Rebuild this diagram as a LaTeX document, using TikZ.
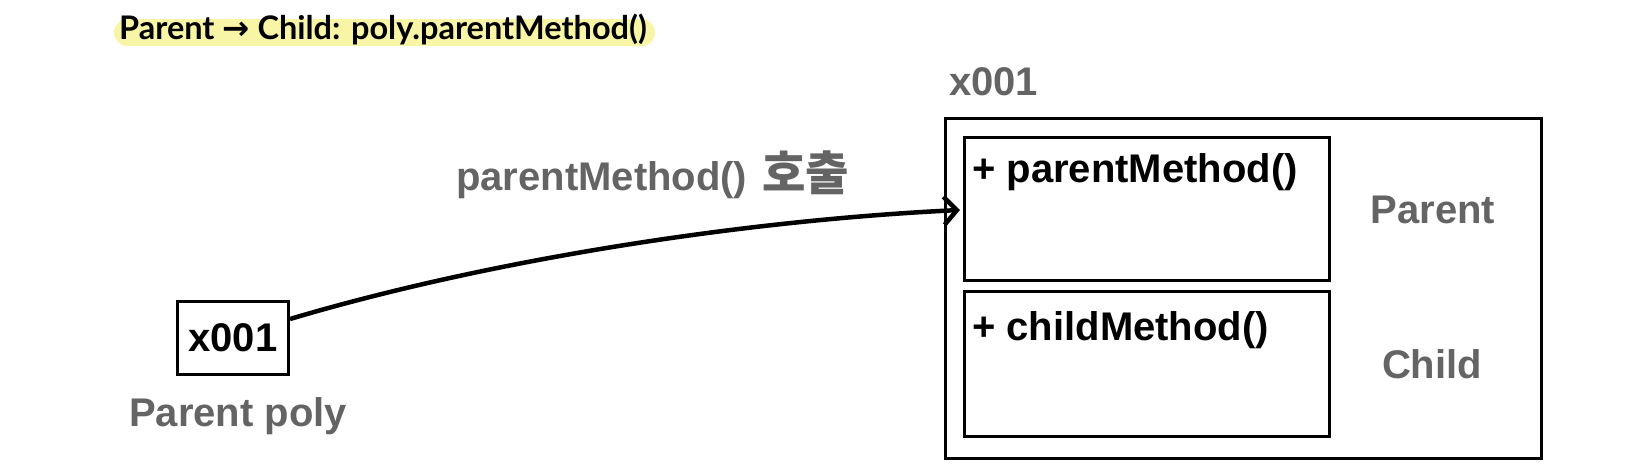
\documentclass[tikz,border=0pt]{standalone}
\usepackage{fontspec}
\setmainfont{Liberation Sans}
\newfontfamily\kofont[Scale=1.18]{Noto Sans CJK KR}
\newfontfamily\titlefont{Lato}
\newfontfamily\arrowfont{DejaVu Sans}
\usetikzlibrary{arrows.meta}
\definecolor{labelgray}{HTML}{646464}
\definecolor{marker}{HTML}{F8F5A6}
\begin{document}
\begin{tikzpicture}[x=1pt,y=-1pt,
  box/.style={draw=black, line width=3pt, inner sep=0pt, anchor=north west},
  big/.style={font=\fontsize{40}{43}\selectfont\bfseries},
  graytext/.style={big, text=labelgray, inner sep=0pt},
  blacktext/.style={big, text=black, inner sep=0pt},
  callarrow/.style={line width=4.5pt, -{Straight Barb[length=13pt,width=28pt,line width=4.5pt]}}
]
\useasboundingbox (0,0) rectangle (1650,466);
% title
\fill[marker, rounded corners=13.5pt] (114,19) rectangle (655,46);
\node[inner sep=0pt, anchor=base west, font=\titlefont\fontsize{32.5}{35}\selectfont\bfseries] (title) at (119,39.5)
  {Parent {\arrowfont →} Child: poly.parentMethod()};
% object
\node[box, minimum width=596pt, minimum height=340pt] (obj) at (944,117) {};
\node[box, minimum width=365pt, minimum height=143pt] (pbox) at (963,136) {};
\node[box, minimum width=365pt, minimum height=145pt] (cbox) at (963,290) {};
\node[graytext, anchor=base west] (addr) at (949,95) {x001};
\node[blacktext, anchor=base west] (pm) at (972,182) {+ parentMethod()};
\node[blacktext, anchor=base west] (cm) at (972,340) {+ childMethod()};
\node[graytext, anchor=base] (plabel) at (1433,223) {Parent};
\node[graytext, anchor=base] (clabel) at (1432,378) {Child};
% reference variable
\node[box, minimum width=111pt, minimum height=73pt] (var) at (176,300) {};
\node[blacktext] (vtext) at (var.center) {x001};
\node[graytext, anchor=base west] (vlabel) at (129,426) {Parent poly};
% call
\node[graytext, anchor=base west] (call) at (456,190) {parentMethod()\hspace{4pt} {\kofont 호출}};
\coordinate (tip) at (960,210);
\draw[callarrow] (var.east |- 0,319) .. controls (495,258) and (750,220) .. (tip);
\end{tikzpicture}
\end{document}
